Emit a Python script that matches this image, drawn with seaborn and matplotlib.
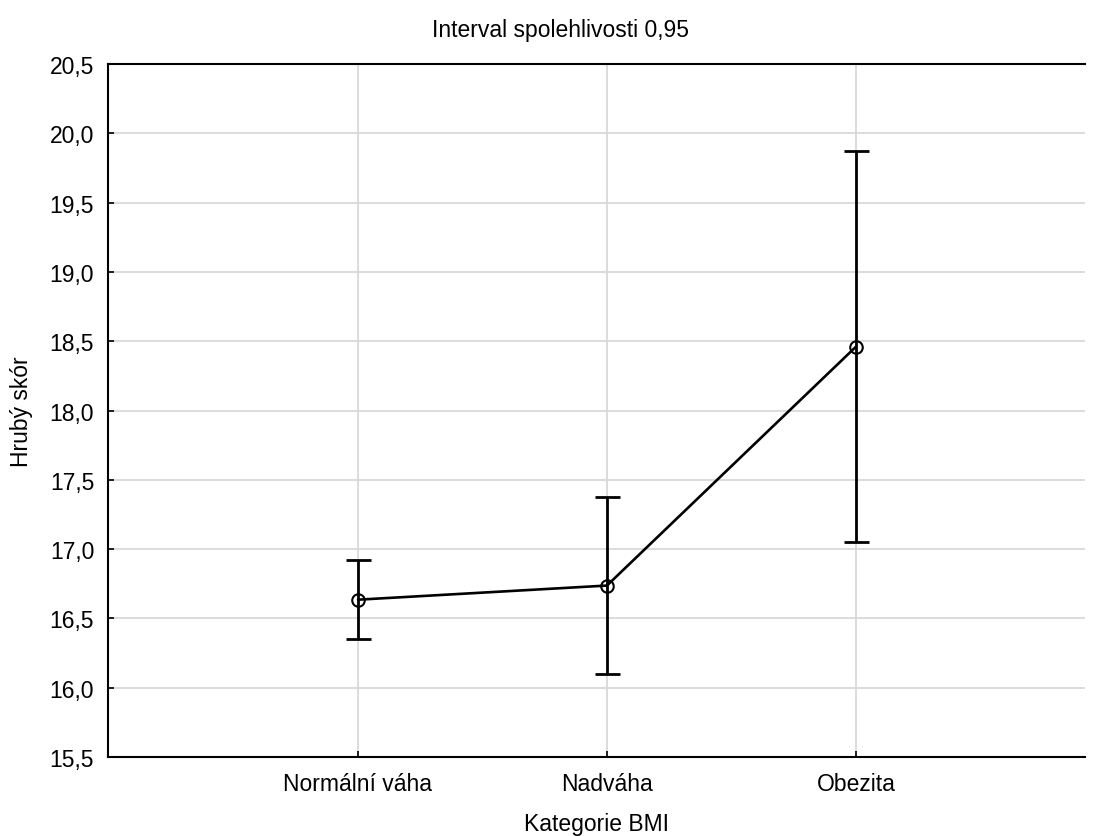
import matplotlib
matplotlib.use("Agg")
import matplotlib.pyplot as plt
from matplotlib import font_manager
import seaborn as sns
import numpy as np
import pandas as pd

# Mean raw score per BMI category with 95% confidence interval half-widths
categories = ["Normální váha", "Nadváha", "Obezita"]
means = [16.635, 16.737, 18.460]
ci_half = [0.285, 0.640, 1.412]
y_ticks = [15.5, 16.0, 16.5, 17.0, 17.5, 18.0, 18.5, 19.0, 19.5, 20.0, 20.5]

sns.set_theme(style="white")

# Regular-width Liberation Sans (avoid the Narrow cut)
regular = [f for f in font_manager.fontManager.ttflist
           if f.name == "Liberation Sans" and "Narrow" not in f.fname
           and f.style == "normal" and f.weight in (400, "normal")]
if regular:
    fp = font_manager.FontProperties(fname=regular[0].fname)
    family_name = fp.get_name()
else:
    family_name = "Liberation Sans"
plt.rcParams["font.family"] = [family_name, "DejaVu Sans"]

df = pd.DataFrame({"Kategorie BMI": categories, "Hrubý skór": means})

fig = plt.figure(figsize=(10.97, 8.37), dpi=100)
ax = fig.add_axes([0.0985, 0.0944, 0.8905, 0.8279])

pos = np.arange(len(categories))
ax.errorbar(pos, means, yerr=ci_half, fmt="none", ecolor="black",
            elinewidth=2.0, capsize=9, capthick=2.0, zorder=3)
sns.lineplot(data=df, x="Kategorie BMI", y="Hrubý skór", ax=ax, sort=False,
             color="black", linewidth=1.9, marker="o", markersize=9,
             markerfacecolor="none", markeredgecolor="black",
             markeredgewidth=1.5, zorder=4)

ax.set_xlim(-1.004, 2.92)
ax.set_ylim(15.5, 20.5)
ax.set_xticks(pos)
ax.set_xticklabels(categories)
ax.set_yticks(y_ticks)
ax.set_yticklabels([f"{v:.1f}".replace(".", ",") for v in y_ticks])

ax.grid(True, color="#d9d9d9", linewidth=1.3)
ax.set_axisbelow(True)
for side in ["left", "bottom", "top"]:
    ax.spines[side].set_visible(True)
    ax.spines[side].set_color("black")
    ax.spines[side].set_linewidth(1.5)
ax.spines["right"].set_visible(False)

ax.tick_params(axis="both", direction="in", length=4, width=1.2,
               color="black", labelsize=16.5, labelcolor="black")
ax.tick_params(axis="y", left=True, pad=10)
ax.tick_params(axis="x", bottom=True, pad=11)

ax.set_xlabel("Kategorie BMI", fontsize=16.5, labelpad=12, color="black")
ax.set_ylabel("Hrubý skór", fontsize=16.5, labelpad=12, color="black")
fig.text(0.511, 0.963, "Interval spolehlivosti 0,95", ha="center", va="center",
         fontsize=16.5, color="black")

fig.savefig("out.png", dpi=100)
